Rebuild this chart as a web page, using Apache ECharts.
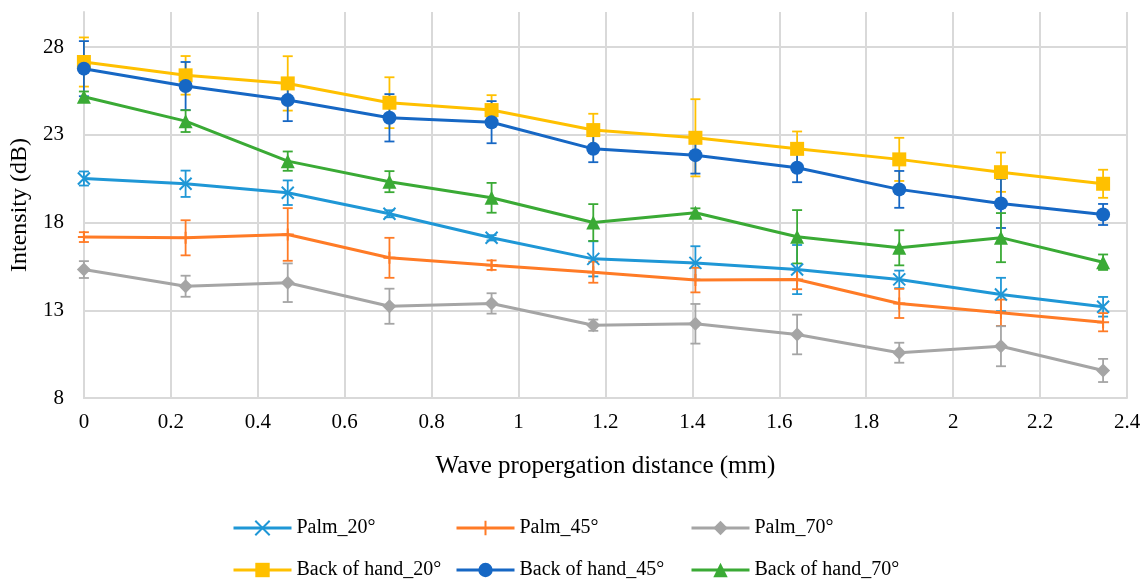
<!DOCTYPE html>
<html>
<head>
<meta charset="utf-8">
<script src="https://cdn.jsdelivr.net/npm/echarts@6/dist/echarts.min.js"></script>
<style>
  html, body { margin: 0; padding: 0; background: #fff; }
  #chart { width: 1147px; height: 584px; }
</style>
</head>
<body>
<div id="chart"></div>
<script>
// x positions (mm)
const xDist = [0, 0.234, 0.469, 0.703, 0.938, 1.172, 1.407, 1.641, 1.876, 2.110, 2.345];

// intensity (dB) and error bar half-lengths
const palm20 = [20.51, 20.21, 19.70, 18.50, 17.13, 15.93, 15.70, 15.32, 14.76, 13.90, 13.20];
const palm20Err = [0.40, 0.75, 0.70, 0.20, 0.15, 1.00, 0.95, 1.40, 0.50, 0.95, 0.56];
const palm45 = [17.17, 17.13, 17.32, 15.99, 15.57, 15.17, 14.72, 14.75, 13.39, 12.86, 12.32];
const palm45Err = [0.28, 1.00, 1.50, 1.14, 0.27, 0.60, 0.70, 0.55, 0.83, 0.75, 0.52];
const palm70 = [15.32, 14.37, 14.57, 13.23, 13.39, 12.15, 12.23, 11.62, 10.58, 10.95, 9.57];
const palm70Err = [0.48, 0.60, 1.10, 1.00, 0.58, 0.32, 1.13, 1.13, 0.57, 1.14, 0.66];
const back20 = [27.15, 26.39, 25.93, 24.83, 24.41, 23.27, 22.83, 22.20, 21.60, 20.87, 20.21];
const back20Err = [1.40, 1.10, 1.55, 1.45, 0.85, 0.93, 2.20, 0.99, 1.23, 1.12, 0.80];
const back45 = [26.77, 25.78, 24.98, 23.97, 23.72, 22.20, 21.84, 21.12, 19.89, 19.09, 18.46];
const back45Err = [1.57, 1.37, 1.20, 1.35, 1.20, 0.76, 1.05, 0.82, 1.05, 1.40, 0.60];
const back70 = [25.17, 23.78, 21.50, 20.33, 19.41, 18.00, 18.56, 17.19, 16.56, 17.14, 15.74];
const back70Err = [0.30, 0.62, 0.55, 0.60, 0.85, 1.05, 0.25, 1.52, 1.00, 1.40, 0.44];

const seriesNames = ['Palm_20°', 'Palm_45°', 'Palm_70°', 'Back of hand_20°', 'Back of hand_45°', 'Back of hand_70°'];

const FONT = 'Liberation Serif';

let chart = echarts.init(document.getElementById('chart'));

// one entry per curve
let curves = [
  { name: seriesNames[0], vals: palm20, errs: palm20Err, color: '#1f97d6', symbol: 'path://M0,0L10,10M10,0L0,10', size: 12, stroke: true },
  { name: seriesNames[1], vals: palm45, errs: palm45Err, color: '#ff7b26', symbol: 'path://M5,0L5,10M0,5L10,5', size: 12, stroke: true },
  { name: seriesNames[2], vals: palm70, errs: palm70Err, color: '#a5a5a5', symbol: 'diamond', size: 14 },
  { name: seriesNames[3], vals: back20, errs: back20Err, color: '#ffc000', symbol: 'rect', size: 14 },
  { name: seriesNames[4], vals: back45, errs: back45Err, color: '#1667c4', symbol: 'circle', size: 14 },
  { name: seriesNames[5], vals: back70, errs: back70Err, color: '#3aaa35', symbol: 'triangle', size: 14 }
];

function errorBarSeries(c) {
  return {
    name: c.name + ' err',
    type: 'custom',
    z: 1,
    silent: true,
    data: xDist.map((x, i) => [x, c.vals[i] - c.errs[i], c.vals[i] + c.errs[i]]),
    renderItem: function (params, api) {
      let lo = api.coord([api.value(0), api.value(1)]);
      let hi = api.coord([api.value(0), api.value(2)]);
      let w = 5;
      let st = { stroke: c.color, lineWidth: 1.8 };
      return {
        type: 'group',
        children: [
          { type: 'line', shape: { x1: lo[0], y1: lo[1], x2: hi[0], y2: hi[1] }, style: st },
          { type: 'line', shape: { x1: lo[0] - w, y1: lo[1], x2: lo[0] + w, y2: lo[1] }, style: st },
          { type: 'line', shape: { x1: hi[0] - w, y1: hi[1], x2: hi[0] + w, y2: hi[1] }, style: st }
        ]
      };
    }
  };
}

function lineSeries(c) {
  return {
    name: c.name,
    type: 'line',
    z: 2,
    data: xDist.map((x, i) => [x, c.vals[i]]),
    symbol: c.symbol,
    symbolSize: c.size,
    showAllSymbol: true,
    lineStyle: { color: c.color, width: 3 },
    itemStyle: c.stroke
      ? { color: c.color, borderColor: c.color, borderWidth: 2 }
      : { color: c.color, borderWidth: 0 }
  };
}

let series = [];
curves.forEach(c => series.push(errorBarSeries(c)));
curves.forEach(c => series.push(lineSeries(c)));

// one legend per entry so the columns line up like the original
function legendItem(left, top, name) {
  return {
    left: left,
    top: top,
    padding: 0,
    itemWidth: 58,
    itemHeight: 18,
    selectedMode: false,
    data: [name],
    lineStyle: { width: 3 },
    textStyle: { fontFamily: FONT, fontSize: 20, color: '#000' }
  };
}

let option = {
  animation: false,
  backgroundColor: '#fff',
  grid: { left: 83, right: 20, top: 12, bottom: 186 },
  legend: [
    legendItem(232, 518, seriesNames[0]),
    legendItem(455, 518, seriesNames[1]),
    legendItem(690, 518, seriesNames[2]),
    legendItem(232, 560, seriesNames[3]),
    legendItem(455, 560, seriesNames[4]),
    legendItem(690, 560, seriesNames[5])
  ],
  xAxis: {
    type: 'value',
    min: 0,
    max: 2.4,
    interval: 0.2,
    name: 'Wave propergation distance (mm)',
    nameLocation: 'middle',
    nameGap: 56,
    nameTextStyle: { fontFamily: FONT, fontSize: 25, color: '#000' },
    axisLine: { show: true, lineStyle: { color: '#d9d9d9', width: 2 } },
    axisTick: { show: false },
    axisLabel: { fontFamily: FONT, fontSize: 21, color: '#000', margin: 14 },
    splitLine: { show: true, lineStyle: { color: '#d9d9d9', width: 2 } }
  },
  yAxis: {
    type: 'value',
    min: 8,
    max: 30,
    interval: 5,
    name: 'Intensity (dB)',
    nameLocation: 'middle',
    nameGap: 50,
    nameTextStyle: { fontFamily: FONT, fontSize: 24, color: '#000' },
    axisLine: { show: true, lineStyle: { color: '#d9d9d9', width: 2 } },
    axisTick: { show: false },
    axisLabel: { fontFamily: FONT, fontSize: 21, color: '#000', margin: 20, showMaxLabel: false },
    splitLine: { show: true, showMaxLine: false, lineStyle: { color: '#d9d9d9', width: 2 } }
  },
  series: series
};

chart.setOption(option);
</script>
</body>
</html>
